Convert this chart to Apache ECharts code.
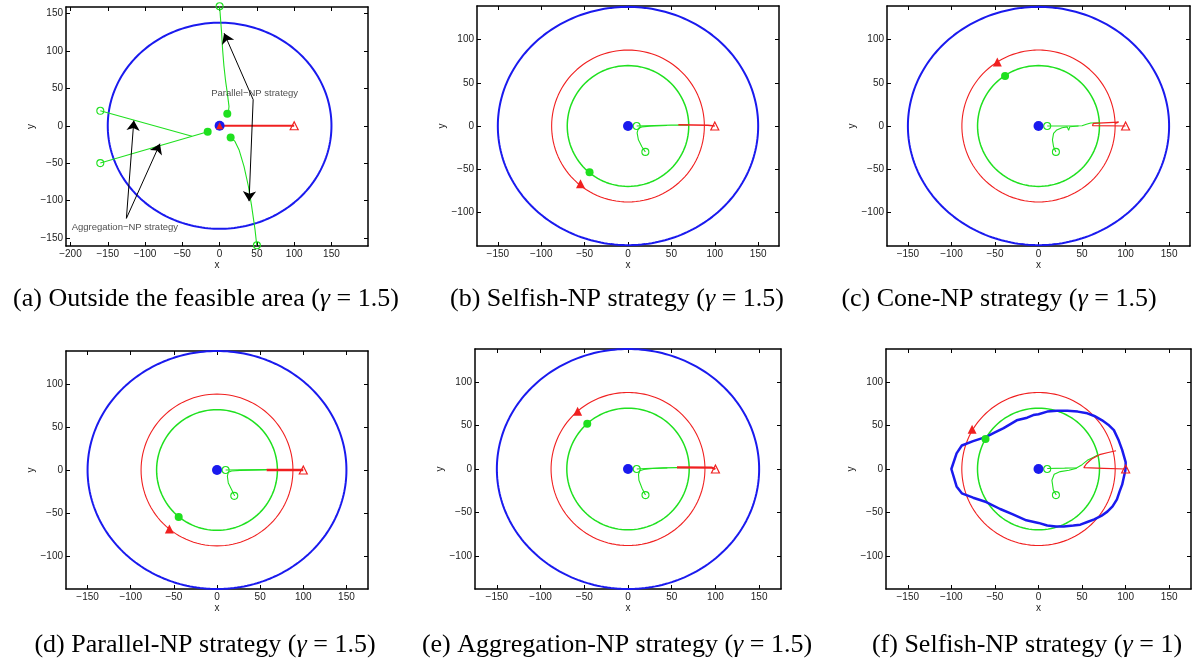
<!DOCTYPE html>
<html><head><meta charset="utf-8">
<script src="https://cdn.jsdelivr.net/npm/echarts@6/dist/echarts.min.js"></script>
<style>html,body{margin:0;padding:0;background:#fff}#c{width:1197px;height:659px}</style>
</head><body><div id="c"></div>
<script>
// ---------------- data ----------------
const captions = [
  '(a) Outside the feasible area ({g|γ} = 1.5)',
  '(b) Selfish-NP strategy ({g|γ} = 1.5)',
  '(c) Cone-NP strategy ({g|γ} = 1.5)',
  '(d) Parallel-NP strategy ({g|γ} = 1.5)',
  '(e) Aggregation-NP strategy ({g|γ} = 1.5)',
  '(f) Selfish-NP strategy ({g|γ} = 1)'
];
const xTicksA = [-200, -150, -100, -50, 0, 50, 100, 150];
const yTicksA = [-150, -100, -50, 0, 50, 100, 150];
const xTicks = [-150, -100, -50, 0, 50, 100, 150];
const yTicks = [-100, -50, 0, 50, 100];
const xRangeA = [-206, 199], yRangeA = [-161, 159];
const xRangeB = [-174, 174], yRangeB = [-139, 139];
const xRangeD = [-175, 175], yRangeD = [-138, 138];

const feasibleEllipse = [150, 138];      // blue boundary radii (x, y)
const redOrbitRadius = 88;
const greenOrbitRadius = 70;
const origin = [[0, 0]];
const pursuerStart = [[100, 0]];
const evaderStarts = [[10, 0], [20, -30]];

// (a) outside the feasible area
const aRedPath = [[0, 0], [100, 0]];
const aGreen1 = [[0, 160], [1.5, 140], [2.7, 124], [4, 102], [5.8, 80], [8, 60], [10.3, 44], [12.6, 26], [12, 20], [10.3, 16]];
const aGreen2 = [[14.8, -15.6], [20.6, -21], [26, -32], [32.7, -54.5], [38.6, -81], [43, -108], [47.5, -139], [49.8, -160]];
const aGreen3 = [[-160, 20], [-37, -14]];
const aGreen4 = [[-160, -50], [-16, -8]];
const aGreenStarts = [[0, 160], [50, -160], [-160, 20], [-160, -50]];
const aGreenEnds = [[10.3, 16], [14.8, -15.6], [-16, -8]];
const aParallelLabel = [47, 43];
const aParallelArrows = [[[45, 35], [6, 124]], [[45, 35], [39.5, -101]]];
const aAggLabel = [-127, -136];
const aAggArrows = [[[-125, -124], [-115, 7]], [[-125, -124], [-80, -24]]];

// (b) Selfish-NP
const bGreen1 = [[10, 0], [30, 0.5], [50, 1], [70, 1]];
const bGreen2 = [[20, -30], [16, -24], [12, -16], [10.5, -8], [12, -2.5], [16, -1], [25, -0.3], [45, 0.5]];
const bRedPath = [[100, 0], [92, 1], [58, 1.5]];
const bRedEnd = [[-54.7, -67]];
const bGreenEnd = [[-44.3, -53.5]];

// (c) Cone-NP
const cGreen1 = [[10, 0], [30, 0], [50, 0.3], [55, 2], [60, 3.5], [70, 3.8]];
const cGreen2 = [[20, -30], [17.3, -24], [16, -16], [17.3, -8.5], [21, -4.6], [27, -2], [33, -1], [34.6, -5], [36, -0.8], [46, 0]];
const cRedPath = [[100, 0], [62, 0.5], [63, 3], [92, 4.5], [88, 3]];
const cRedEnd = [[-47.3, 74]];
const cGreenEnd = [[-38.4, 58]];

// (d) Parallel-NP
const dGreen1 = [[10, 0], [30, 0.3], [57.5, 0.5], [70, 0.5]];
const dGreen2 = [[20.5, -30], [17, -22.8], [13.1, -15], [12, -7.3], [13, -2.7], [17, -1.2], [26.6, -0.4], [57.5, 0]];
const dRedPath = [[100, 0], [94, 0], [57.5, 0]];
const dRedEnd = [[-55.2, -68.3]];
const dGreenEnd = [[-44.4, -54.4]];

// (e) Aggregation-NP
const eGreen1 = [[10, 0], [20, 0.5], [40, 1.3], [56, 1.6], [70, 1.5]];
const eGreen2 = [[20, -30], [16, -22], [12.5, -13], [12, -6], [13.5, -2], [18, -0.5], [28, 0.5], [45, 1.2]];
const eRedPath = [[100, 0], [96, 1.5], [56, 1.8]];
const eRedEnd = [[-57.6, 66.4]];
const eGreenEnd = [[-46.6, 51.9]];

// (f) Selfish-NP, gamma = 1
const fGreen1 = [[10, 0.5], [30, 1], [44, 1.5], [50, 5], [56, 10], [62, 13], [68, 16]];
const fGreen2 = [[20.4, -30], [17, -24], [15.4, -13], [18, -6], [25, -3], [35, -1.5], [44, 1]];
const fRedPath = [[100, 0], [75, 0.8], [52, 1.5], [55, 6], [61, 11.5], [70, 16.5], [80, 19], [89, 21]];
const fRedEnd = [[-76.2, 45.8]];
const fGreenEnd = [[-60.8, 34.4]];
const fBoundary = [[100, 0], [100, 8], [96, 22], [92, 33], [86.5, 44.7], [80, 51], [73, 56], [64, 61], [56, 64], [45, 66], [33, 67],
  [21, 67], [10, 66], [0, 63], [-6, 62], [-13, 59], [-25, 56], [-40, 47], [-50, 42], [-60, 37], [-75, 32], [-88, 27], [-94, 18], [-100, 0],
  [-94, -20], [-88, -28], [-75, -33], [-60, -38], [-44, -46], [-30, -52], [-14, -59], [0, -62], [10, -65], [20, -66], [29, -66],
  [40, -65], [48, -64], [56, -61], [64, -58], [72, -54], [79, -49], [85, -43], [90, -35], [93, -26], [96, -18], [100, 0]];

// ---------------- build ----------------
const COL = { blue: '#1a1aee', red: '#f02020', green: '#1fe01f' };
const FONT = 'Liberation Sans, Arial, sans-serif';
const grids = [
  { left: 66, top: 7, width: 302, height: 239 },
  { left: 477, top: 6, width: 302, height: 240 },
  { left: 887, top: 6, width: 303, height: 240 },
  { left: 66, top: 351, width: 302, height: 238 },
  { left: 475, top: 349, width: 306, height: 240 },
  { left: 886, top: 349, width: 305, height: 240 }
];
const ranges = [
  [xRangeA, yRangeA, xTicksA, yTicksA],
  [xRangeB, yRangeB, xTicks, yTicks],
  [xRangeB, yRangeB, xTicks, yTicks],
  [xRangeD, yRangeD, xTicks, yTicks],
  [xRangeD, yRangeD, xTicks, yTicks],
  [xRangeD, yRangeD, xTicks, yTicks]
];
const captionPos = [[206, 299], [617, 299], [999, 299], [205, 645], [617, 645], [1027, 645]];

function fmt(v) { return String(v).replace('-', '\u2212'); }
function ellipse(rx, ry) {
  const pts = [];
  for (let k = 0; k <= 240; k++) { const t = 2 * Math.PI * k / 240; pts.push([rx * Math.cos(t), ry * Math.sin(t)]); }
  return pts;
}
const xAxis = [], yAxis = [];
const axisLine = { onZero: false, lineStyle: { color: '#000', width: 1.5 } };
const txt = { fontSize: 10, color: '#222', fontFamily: FONT };
ranges.forEach((r, p) => {
  const [xr, yr, xt, yt] = r;
  xAxis.push({ gridIndex: p, type: 'value', min: xr[0], max: xr[1], position: 'bottom', axisLine,
    axisTick: { inside: true, length: 4, customValues: xt, lineStyle: { color: '#000' } },
    axisLabel: Object.assign({ customValues: xt, formatter: fmt, margin: 3 }, txt),
    splitLine: { show: false }, name: 'x', nameLocation: 'middle', nameGap: 14, nameTextStyle: txt });
  xAxis.push({ gridIndex: p, type: 'value', min: xr[0], max: xr[1], position: 'top', axisLine,
    axisTick: { inside: true, length: 4, customValues: xt, lineStyle: { color: '#000' } },
    axisLabel: { show: false }, splitLine: { show: false } });
  yAxis.push({ gridIndex: p, type: 'value', min: yr[0], max: yr[1], position: 'left', axisLine,
    axisTick: { inside: true, length: 4, customValues: yt, lineStyle: { color: '#000' } },
    axisLabel: Object.assign({ customValues: yt, formatter: fmt, margin: 3 }, txt),
    splitLine: { show: false }, name: 'y', nameLocation: 'middle', nameGap: 25, nameTextStyle: txt });
  yAxis.push({ gridIndex: p, type: 'value', min: yr[0], max: yr[1], position: 'right', axisLine,
    axisTick: { inside: true, length: 4, customValues: yt, lineStyle: { color: '#000' } },
    axisLabel: { show: false }, splitLine: { show: false } });
});

const series = [];
function line(p, data, color, width, z) {
  series.push({ type: 'line', xAxisIndex: 2 * p, yAxisIndex: 2 * p, data, symbol: 'none', showSymbol: false,
    lineStyle: { color, width }, z: z || 2, silent: true, animation: false, clip: false });
}
function pts(p, data, symbol, size, fill, border, bw, z) {
  series.push({ type: 'scatter', xAxisIndex: 2 * p, yAxisIndex: 2 * p, data, symbol, symbolSize: size,
    itemStyle: { color: fill, borderColor: border, borderWidth: bw, opacity: 1 }, z: z || 5, silent: true, animation: false, clip: false });
}
function arrows(p, list) {
  series.push({ type: 'lines', coordinateSystem: 'cartesian2d', xAxisIndex: 2 * p, yAxisIndex: 2 * p,
    data: list.map(c => ({ coords: c })), symbol: ['none', 'arrow'], symbolSize: [0, 10],
    lineStyle: { color: '#000', width: 1, opacity: 1, curveness: 0 }, z: 6, silent: true, animation: false });
}
function textAt(p, pos, label) {
  series.push({ type: 'scatter', xAxisIndex: 2 * p, yAxisIndex: 2 * p, data: [{ value: pos, name: label }], symbolSize: 1,
    itemStyle: { color: 'rgba(0,0,0,0)' }, label: { show: true, position: 'inside', formatter: '{b}', fontSize: 9.5, color: '#222', fontFamily: FONT },
    z: 7, silent: true, animation: false });
}
const hollow = 'rgba(0,0,0,0)';

// panel (a)
line(0, ellipse(feasibleEllipse[0], feasibleEllipse[1]), COL.blue, 2);
line(0, aGreen1, COL.green, 1.1);
line(0, aGreen2, COL.green, 1.1);
line(0, aGreen3, COL.green, 1.1);
line(0, aGreen4, COL.green, 1.1);
line(0, aRedPath, COL.red, 2, 3);
pts(0, aGreenStarts, 'circle', 7, hollow, COL.green, 1.1);
pts(0, aGreenEnds, 'circle', 8, COL.green, COL.green, 0);
pts(0, origin, 'circle', 10, COL.blue, COL.blue, 0);
pts(0, origin, 'triangle', 7, COL.red, COL.red, 0, 6);
pts(0, pursuerStart, 'triangle', 8, hollow, COL.red, 1.2);
arrows(0, aParallelArrows);
arrows(0, aAggArrows);
textAt(0, aParallelLabel, 'Parallel\u2212NP strategy');
textAt(0, aAggLabel, 'Aggregation\u2212NP strategy');

// panels (b)-(f)
const panels = [
  [1, bGreen1, bGreen2, bRedPath, bRedEnd, bGreenEnd, null, 1.5],
  [2, cGreen1, cGreen2, cRedPath, cRedEnd, cGreenEnd, null, 1.2],
  [3, dGreen1, dGreen2, dRedPath, dRedEnd, dGreenEnd, null, 2.5],
  [4, eGreen1, eGreen2, eRedPath, eRedEnd, eGreenEnd, null, 2.2],
  [5, fGreen1, fGreen2, fRedPath, fRedEnd, fGreenEnd, fBoundary, 1.2]
];
panels.forEach(([p, g1, g2, rp, re, ge, bnd, rw]) => {
  if (bnd) line(p, bnd, COL.blue, 2.5, 4);
  else line(p, ellipse(feasibleEllipse[0], feasibleEllipse[1]), COL.blue, 2);
  line(p, ellipse(redOrbitRadius, redOrbitRadius), COL.red, 1.1);
  line(p, ellipse(greenOrbitRadius, greenOrbitRadius), COL.green, 1.5);
  line(p, g1, COL.green, 1.1);
  line(p, g2, COL.green, 1.1);
  line(p, rp, COL.red, rw, 3);
  pts(p, evaderStarts, 'circle', 7, hollow, COL.green, 1.1);
  pts(p, origin, 'circle', 10, COL.blue, COL.blue, 0);
  pts(p, pursuerStart, 'triangle', 8, hollow, COL.red, 1.2);
  pts(p, ge, 'circle', 8, COL.green, COL.green, 0);
  pts(p, re, 'triangle', 9, COL.red, COL.red, 0);
});

const graphic = captions.map((t, i) => ({
  type: 'text', x: captionPos[i][0], y: captionPos[i][1], silent: true,
  style: { text: t, fill: '#000', fontSize: 26, fontFamily: 'Liberation Serif, serif', align: 'center', verticalAlign: 'middle',
    rich: { g: { fontStyle: 'italic', fontSize: 26, fontFamily: 'Liberation Serif, serif', fill: '#000' } } }
}));

const chart = echarts.init(document.getElementById('c'), null, { renderer: 'canvas' });
chart.setOption({ animation: false, backgroundColor: '#fff', grid: grids, xAxis, yAxis, series, graphic });
</script></body></html>
